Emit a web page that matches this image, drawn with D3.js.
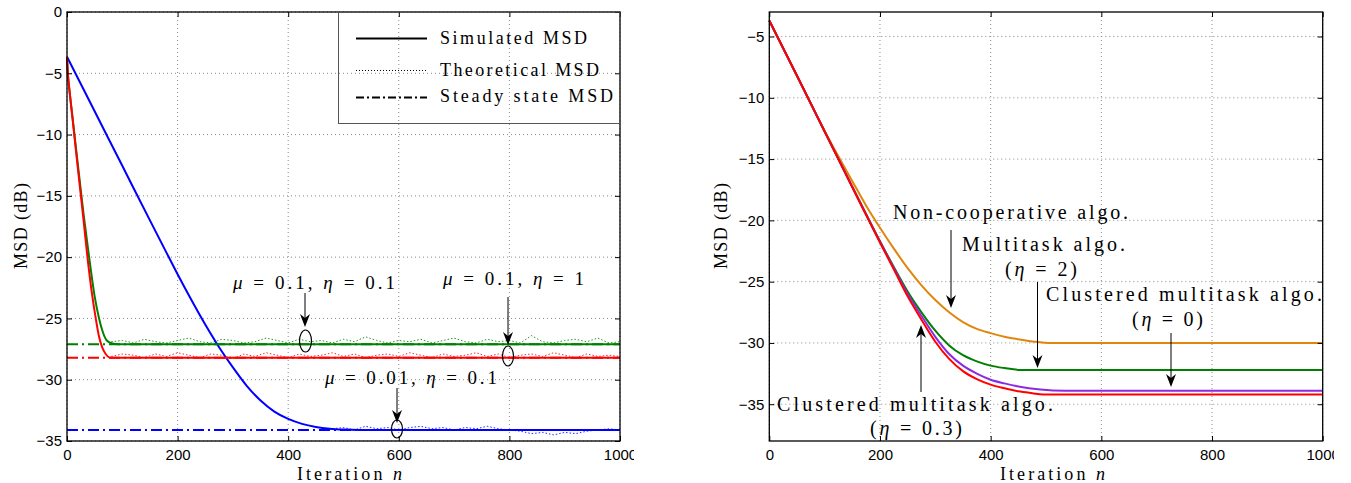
<!DOCTYPE html>
<html><head><meta charset="utf-8">
<script src="https://cdn.jsdelivr.net/npm/d3@7"></script>
<style>body{margin:0;background:#fff}svg{display:block}</style>
</head><body><svg id="c" width="1351" height="483"></svg>
<script>
// ---------- data ----------
const xTicks = [0, 200, 400, 600, 800, 1000];
const leftYTicks = [0, -5, -10, -15, -20, -25, -30, -35];
const rightYTicks = [-5, -10, -15, -20, -25, -30, -35];

// left panel: smooth curves
const curveGreen = [[0,-3.7],[2,-5.3],[4,-6.2],[10,-8.6],[20,-12.6],[30,-16.5],[40,-20],[50,-23.2],[58,-25],[64,-26],[72,-26.8],[82,-27.05],[93,-27.1],[1000,-27.1]];
const curveRed = [[0,-3.7],[2,-5.3],[4,-6.2],[10,-8.7],[20,-12.9],[30,-17],[36,-19.6],[44,-22.6],[52,-25],[58,-26.5],[64,-27.4],[70,-27.9],[78,-28.2],[1000,-28.2]];
const curveBlue = [[0,-3.65],[50,-8.1],[100,-12.55],[150,-17.0],[175,-19.2],[200,-21.4],[225,-23.5],[250,-25.5],[275,-27.35],[300,-29.0],[325,-30.5],[350,-31.7],[375,-32.6],[400,-33.2],[425,-33.6],[450,-33.85],[475,-34.0],[500,-34.07],[530,-34.1],[1000,-34.1]];
// left panel: noisy dotted traces
const noisyIter = [80,100,120,140,160,180,200,220,240,260,280,300,320,340,360,380,400,420,440,460,480,500,520,540,560,580,600,620,640,660,680,700,720,740,760,780,800,820,840,860,880,900,920,940,960,980,1000];
const noisyGreen = [-26.9,-26.8,-27.0,-26.7,-26.9,-27.0,-26.8,-26.6,-26.9,-27.0,-26.7,-26.8,-27.0,-26.9,-26.6,-26.8,-27.0,-26.7,-26.9,-26.8,-27.0,-26.7,-26.9,-26.5,-26.8,-27.0,-26.8,-26.9,-26.7,-27.0,-26.8,-26.6,-26.9,-27.0,-26.7,-26.9,-26.8,-27.0,-26.4,-26.9,-27.0,-26.8,-26.7,-26.9,-26.6,-27.0,-26.9];
const noisyRed = [-28.1,-27.9,-28.0,-28.2,-27.9,-28.1,-27.8,-28.0,-28.2,-27.9,-28.0,-28.3,-27.9,-28.1,-27.8,-28.0,-28.2,-27.9,-28.1,-28.0,-27.8,-28.1,-27.9,-28.2,-28.0,-27.9,-28.1,-27.8,-28.0,-28.2,-27.9,-28.1,-28.0,-27.8,-28.1,-27.9,-28.2,-28.0,-27.9,-28.1,-27.8,-28.0,-28.2,-27.9,-28.1,-28.0,-28.1];
const noisyBlueIter = [480,500,520,540,560,580,600,620,640,660,680,700,720,740,760,780,800,820,840,860,880,900,920,940,960,980,1000];
const noisyBlue = [-34.0,-33.9,-34.1,-33.8,-34.0,-33.9,-34.1,-33.9,-33.8,-34.0,-33.9,-34.1,-33.9,-34.0,-33.8,-34.0,-34.1,-34.2,-34.4,-34.3,-34.5,-34.3,-34.4,-34.2,-34.1,-34.0,-34.1];
const steadyLevels = [-27.1, -28.2, -34.1];
const leftColors = ['#008000', '#ff0000', '#0000ff'];
const legendLabels = ['Simulated MSD', 'Theoretical MSD', 'Steady state MSD'];

// right panel
const nonCoop = [[0,-3.7],[50,-8.2],[100,-12.7],[150,-16.8],[175,-18.8],[200,-20.6],[225,-22.3],[250,-23.9],[275,-25.3],[300,-26.5],[325,-27.5],[350,-28.3],[375,-28.85],[400,-29.2],[425,-29.5],[450,-29.7],[480,-29.9],[510,-30.0],[1000,-30.0]];
const multitask2 = [[0,-3.7],[50,-8.2],[100,-12.75],[150,-17.25],[200,-21.7],[225,-23.8],[250,-25.8],[275,-27.5],[300,-29.0],[325,-30.2],[350,-31.0],[375,-31.5],[400,-31.85],[425,-32.05],[453,-32.2],[1000,-32.2]];
const clustered0 = [[0,-3.7],[50,-8.2],[100,-12.75],[150,-17.28],[200,-21.75],[225,-23.9],[250,-26.0],[275,-27.8],[300,-29.5],[325,-30.9],[350,-31.85],[375,-32.5],[400,-33.0],[425,-33.3],[450,-33.55],[490,-33.8],[534,-33.9],[1000,-33.9]];
const clustered03 = [[0,-3.7],[50,-8.2],[100,-12.75],[150,-17.3],[200,-21.8],[225,-24.0],[250,-26.2],[275,-28.1],[300,-29.9],[325,-31.3],[350,-32.3],[375,-32.95],[400,-33.4],[425,-33.7],[450,-33.95],[475,-34.1],[495,-34.2],[1000,-34.2]];
const rightColors = ['#e0860c', '#008000', '#8a2be2', '#ff0000'];

// ---------- drawing ----------
const svg = d3.select('#c');
const SERIF = '"Liberation Serif","DejaVu Serif",serif';
const SANS = '"Liberation Sans",Arial,sans-serif';
const fmt = d3.format('d');

function panel(x0, x1, yDom, yTicks) {
  const x = d3.scaleLinear().domain([0, 1000]).range([x0, x1]);
  const y = d3.scaleLinear().domain(yDom).range([441, 12]);
  const g = svg.append('g');
  g.append('g').selectAll('line').data(xTicks).join('line')
    .attr('x1', d => x(d)).attr('x2', d => x(d)).attr('y1', 12).attr('y2', 441)
    .attr('stroke', '#8c8c8c').attr('stroke-width', 1).attr('stroke-dasharray', '1,3');
  g.append('g').selectAll('line').data(yTicks).join('line')
    .attr('x1', x0).attr('x2', x1).attr('y1', d => y(d)).attr('y2', d => y(d))
    .attr('stroke', '#8c8c8c').attr('stroke-width', 1).attr('stroke-dasharray', '1,3');
  return {x, y, g};
}

function frame(p, yTicks) {
  const {x, y, g} = p;
  const [x0, x1] = x.range();
  const ax = g.append('g');
  const styleAxis = s => {
    s.select('.domain').remove();
    s.selectAll('text').attr('font-family', SANS).attr('font-size', 15).attr('fill', '#000');
    s.selectAll('line').attr('stroke', '#000');
  };
  ax.append('g').attr('transform', `translate(${x0},0)`)
    .call(d3.axisLeft(y).tickValues(yTicks).tickFormat(fmt).tickSizeInner(-5).tickSizeOuter(0).tickPadding(5)).call(styleAxis);
  ax.append('g').attr('transform', `translate(${x1},0)`)
    .call(d3.axisRight(y).tickValues(yTicks).tickSizeInner(-5).tickSizeOuter(0).tickFormat('')).call(styleAxis);
  ax.append('g').attr('transform', `translate(0,441)`)
    .call(d3.axisBottom(x).tickValues(xTicks).tickFormat(fmt).tickSizeInner(-5).tickSizeOuter(0).tickPadding(8)).call(styleAxis);
  ax.append('g').attr('transform', `translate(0,12)`)
    .call(d3.axisTop(x).tickValues(xTicks).tickSizeInner(-5).tickSizeOuter(0).tickFormat('')).call(styleAxis);
  g.append('rect').attr('x', x0).attr('y', 12).attr('width', x1 - x0).attr('height', 429)
    .attr('fill', 'none').attr('stroke', '#000').attr('stroke-width', 1.3);
}

function mathText(parent, x, y, parts, len, size) {
  const t = parent.append('text').attr('x', x).attr('y', y)
    .attr('font-family', SERIF).attr('font-size', size).attr('fill', '#000')
    .attr('textLength', len).attr('lengthAdjust', 'spacing')
    .style('white-space', 'pre');
  parts.forEach(p => t.append('tspan').text(p[0]).attr('font-style', p[1] ? 'italic' : null));
  return t;
}

function arrow(parent, x, yFrom, yTip) {
  const dir = yTip > yFrom ? 1 : -1;
  parent.append('line').attr('x1', x).attr('x2', x).attr('y1', yFrom).attr('y2', yTip - dir * 6)
    .attr('stroke', '#000').attr('stroke-width', 1);
  parent.append('path')
    .attr('d', `M${x},${yTip} L${x - 5},${yTip - dir * 13} L${x},${yTip - dir * 9} L${x + 5},${yTip - dir * 13} Z`)
    .attr('fill', '#000');
}

function axisTitles(p, yLabelX, xLabelStart) {
  const g = p.g;
  mathText(g, 0, 0, [['MSD (dB)', false]], 86, 18)
    .attr('transform', `translate(${yLabelX},226) rotate(-90)`).attr('x', 0).attr('y', 0)
    .attr('text-anchor', 'middle');
  mathText(g, xLabelStart, 480, [['Iteration ', false], ['n', true]], 105, 18);
}

// ----- left panel -----
const L = panel(67, 620, [-35, 0], leftYTicks);
const lineL = d3.line().x(d => L.x(d[0])).y(d => L.y(d[1])).curve(d3.curveMonotoneX);

L.g.append('g').selectAll('line').data(steadyLevels).join('line')
  .attr('x1', L.x(0)).attr('x2', L.x(1000)).attr('y1', d => L.y(d)).attr('y2', d => L.y(d))
  .attr('stroke', (d, i) => leftColors[i]).attr('stroke-width', 2).attr('stroke-dasharray', '11,4,2,4');
const noisySets = [
  noisyIter.map((it, i) => [it, noisyGreen[i]]),
  noisyIter.map((it, i) => [it, noisyRed[i]]),
  noisyBlueIter.map((it, i) => [it, noisyBlue[i]])
];
const lineLin = d3.line().x(d => L.x(d[0])).y(d => L.y(d[1]));
L.g.append('g').selectAll('path').data(noisySets).join('path')
  .attr('d', lineLin).attr('fill', 'none').attr('stroke', (d, i) => leftColors[i])
  .attr('stroke-width', 1).attr('stroke-dasharray', '1.5,2').attr('opacity', 0.85);
L.g.append('g').selectAll('path').data([curveBlue, curveGreen, curveRed]).join('path')
  .attr('d', lineL).attr('fill', 'none')
  .attr('stroke', (d, i) => [leftColors[2], leftColors[0], leftColors[1]][i]).attr('stroke-width', 2);

frame(L, leftYTicks);

const lg = L.g.append('g');
lg.append('rect').attr('x', 338.5).attr('y', 12).attr('width', 281.5).attr('height', 111.5)
  .attr('fill', 'none').attr('stroke', '#555').attr('stroke-width', 1);
const legY = [38.5, 70.5, 97.5];
const legDash = [null, '1,2', '8,3,2,3'];
const legW = [2, 1, 2];
const legLen = [147, 159, 173];
const legBase = [43.5, 75.5, 102];
legendLabels.forEach((lab, i) => {
  lg.append('line').attr('x1', 356).attr('x2', 427).attr('y1', legY[i]).attr('y2', legY[i])
    .attr('stroke', '#000').attr('stroke-width', legW[i]).attr('stroke-dasharray', legDash[i]);
  mathText(lg, 440, legBase[i], [[lab, false]], legLen[i], 18);
});

const an = L.g.append('g');
mathText(an, 233, 289, [['μ', true], [' = 0.1, ', false], ['η', true], [' = 0.1', false]], 162, 19);
mathText(an, 443, 285, [['μ', true], [' = 0.1, ', false], ['η', true], [' = 1', false]], 141, 19);
mathText(an, 325, 384, [['μ', true], [' = 0.01, ', false], ['η', true], [' = 0.1', false]], 172, 19);
arrow(an, 305, 293, 327);
arrow(an, 508, 297, 345);
arrow(an, 397, 388, 423);
[[305.5, 341, 6, 11], [508, 356, 5.5, 10], [397, 429, 5.5, 9]].forEach(e => {
  an.append('ellipse').attr('cx', e[0]).attr('cy', e[1]).attr('rx', e[2]).attr('ry', e[3])
    .attr('fill', 'none').attr('stroke', '#000').attr('stroke-width', 1.2);
});
axisTitles(L, 27, 297);

// ----- right panel -----
const R = panel(769.3, 1322.7, [-38, -3], rightYTicks);
const lineR = d3.line().x(d => R.x(d[0])).y(d => R.y(d[1])).curve(d3.curveMonotoneX);
R.g.append('g').selectAll('path').data([nonCoop, multitask2, clustered0, clustered03]).join('path')
  .attr('d', lineR).attr('fill', 'none').attr('stroke', (d, i) => rightColors[i]).attr('stroke-width', 2);
frame(R, rightYTicks);

const ar = R.g.append('g');
mathText(ar, 893, 219, [['Non-cooperative algo.', false]], 235, 20);
mathText(ar, 962, 251, [['Multitask algo.', false]], 163, 20);
mathText(ar, 1005, 276, [['(', false], ['η', true], [' = 2)', false]], 72, 20);
mathText(ar, 1046, 301, [['Clustered multitask algo.', false]], 276, 20);
mathText(ar, 1132, 326, [['(', false], ['η', true], [' = 0)', false]], 71, 20);
mathText(ar, 777, 411, [['Clustered multitask algo.', false]], 276, 20);
mathText(ar, 870, 435, [['(', false], ['η', true], [' = 0.3)', false]], 92, 20);
arrow(ar, 951, 230, 308);
arrow(ar, 1037.5, 282, 368);
arrow(ar, 1171, 333, 387);
arrow(ar, 921, 392, 325);
axisTitles(R, 727, 1000);

// subfigure clipping of the last tick label
svg.append('rect').attr('x', 634).attr('y', 444).attr('width', 30).attr('height', 22).attr('fill', '#fff');
svg.append('rect').attr('x', 1334).attr('y', 444).attr('width', 17).attr('height', 22).attr('fill', '#fff');
</script></body></html>
